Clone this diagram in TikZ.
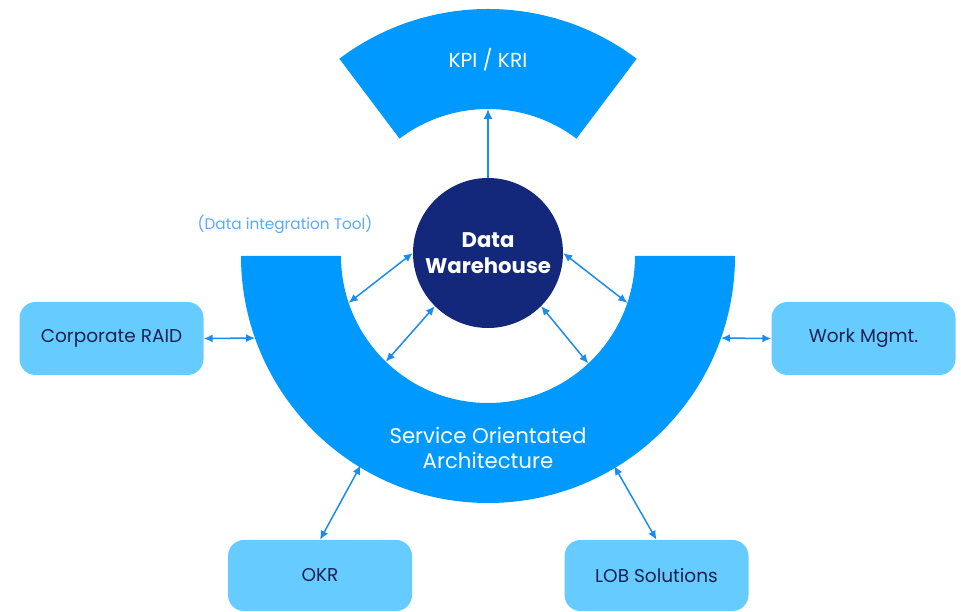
\documentclass[tikz,border=0pt]{standalone}
\usepackage{fontspec}
\setmainfont{Poppins}
\usetikzlibrary{arrows.meta}
\definecolor{soablue}{HTML}{0099FF}
\definecolor{boxblue}{HTML}{66CCFF}
\definecolor{navy}{HTML}{13287A}
\definecolor{arrowblue}{HTML}{1A8CF0}
\definecolor{boxtext}{HTML}{1C2150}
\definecolor{tooltext}{HTML}{5AA9FF}
\tikzset{
  sysbox/.style={fill=boxblue, rounded corners=16pt, minimum width=184pt, minimum height=73pt,
    text=boxtext, font=\fontsize{18.5}{22}\selectfont, inner sep=0pt},
  link/.style={draw=arrowblue, line width=1.5pt, {Latex[length=9pt,width=8pt]}-{Latex[length=9pt,width=8pt]}},
  uplink/.style={draw=arrowblue, line width=1.6pt, -{Latex[length=10pt,width=9pt]}},
  whitetext/.style={text=white, align=center, inner sep=0pt}
}
\begin{document}
\begin{tikzpicture}[x=1pt,y=1pt]
\useasboundingbox (0,0) rectangle (961,612);
\coordinate (C) at (488,356);
% SOA half ring
\fill[soablue] (241,356) arc[start angle=180,end angle=360,radius=247] -- (635,356)
  arc[start angle=360,end angle=180,radius=147] -- cycle;
% KPI sector
\fill[soablue] ([shift={(53:247)}]C) arc[start angle=53,end angle=127,radius=247]
  -- ([shift={(127:147)}]C) arc[start angle=127,end angle=53,radius=147] -- cycle;
\node[whitetext, font=\fontsize{20.3}{24}\selectfont] (kpi) at (488,552) {KPI / KRI};
\node[whitetext, font=\fontsize{21.3}{25}\selectfont] (soa) at (488,164) {Service Orientated\\Architecture};
\node[text=tooltext, font=\fontsize{15.3}{18}\selectfont, inner sep=0pt] (tool) at (285,388) {(Data integration Tool)};
% Data warehouse
\node[circle, fill=navy, minimum size=150pt, inner sep=0pt, text=white, align=center,
  font=\fontsize{21.2}{26}\selectfont\bfseries] (dw) at (488,359) {Data\\Warehouse};
% boxes
\node[sysbox] (raid) at (111.5,273.5) {Corporate RAID};
\node[sysbox] (wm) at (863.5,273.5) {Work Mgmt.};
\node[sysbox, minimum height=71pt] (okr) at (320,36.5) {OKR};
\node[sysbox, minimum height=71pt] (lob) at (656.5,36.5) {LOB Solutions};
% anchor points on the ring
\coordinate (kin) at ([shift={(90:147)}]C);
\coordinate (i1) at ([shift={(198.6:147)}]C);
\coordinate (i2) at ([shift={(226:147)}]C);
\coordinate (i3) at ([shift={(341.4:147)}]C);
\coordinate (i4) at ([shift={(313:147)}]C);
\coordinate (o1) at ([shift={(199.4:247)}]C);
\coordinate (o2) at ([shift={(340.6:247)}]C);
\coordinate (o3) at ([shift={(238.7:245)}]C);
\coordinate (o4) at ([shift={(301:245)}]C);
% connectors
\draw[uplink] (dw.north) -- (kin);
\draw[link] (i1) -- (dw.180);
\draw[link] (i2) -- (dw.225);
\draw[link] (dw.0) -- (i3);
\draw[link] (dw.315) -- (i4);
\draw[link] (raid.east) -- (o1);
\draw[link] (o2) -- (wm.west);
\draw[link] (okr.north) -- (o3);
\draw[link] (o4) -- (lob.north);
\end{tikzpicture}
\end{document}
